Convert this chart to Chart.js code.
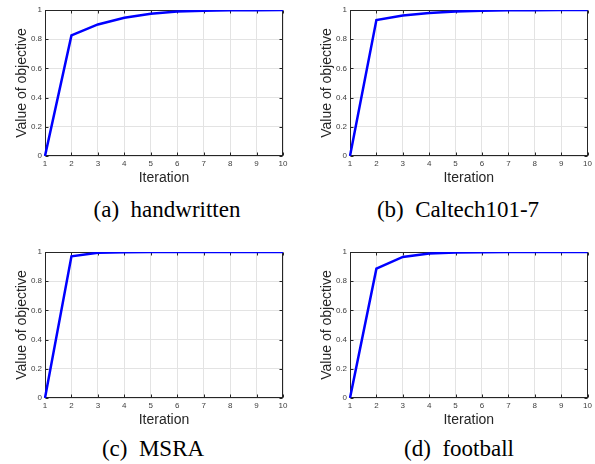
<!DOCTYPE html>
<html>
<head>
<meta charset="utf-8">
<script src="https://cdn.jsdelivr.net/npm/chart.js@4.4.1/dist/chart.umd.min.js"></script>
<style>
  body { margin: 0; background: #fff; width: 595px; height: 464px; position: relative; overflow: hidden; }
  .panel { position: absolute; }
  .caption {
    position: absolute;
    font-family: "Liberation Serif", "Times New Roman", serif;
    font-size: 23px;
    line-height: 1;
    color: #000;
    white-space: pre;
    transform: translateX(-50%);
  }
</style>
</head>
<body>
<div class="panel" id="panelA"><canvas id="chartA"></canvas></div>
<div class="panel" id="panelB"><canvas id="chartB"></canvas></div>
<div class="panel" id="panelC"><canvas id="chartC"></canvas></div>
<div class="panel" id="panelD"><canvas id="chartD"></canvas></div>
<div class="caption" style="left:167px;top:198px">(a)  handwritten</div>
<div class="caption" style="left:458px;top:198px">(b)  Caltech101-7</div>
<div class="caption" style="left:153px;top:437px">(c)  MSRA</div>
<div class="caption" style="left:459px;top:437px">(d)  football</div>
<script>
// Data
const iterations = [1, 2, 3, 4, 5, 6, 7, 8, 9, 10];
const handwritten = [0, 0.826, 0.901, 0.947, 0.975, 0.989, 0.995, 0.998, 0.999, 1.0];
const caltech = [0, 0.931, 0.963, 0.979, 0.99, 0.995, 0.998, 0.999, 1.0, 1.0];
const msra = [0, 0.97, 0.995, 0.999, 1.0, 1.0, 1.0, 1.0, 1.0, 1.0];
const football = [0, 0.886, 0.966, 0.989, 0.997, 0.999, 1.0, 1.0, 1.0, 1.0];
const yTicks = [0, 0.2, 0.4, 0.6, 0.8, 1];

// Panel layout (canvas box + plot margins)
const layoutA = { left: 0, top: 0, width: 297, height: 192, padTop: 10, padRight: 14, yWidth: 45, xHeight: 36, yTitlePad: 13.6, xTitlePad: 5.6 };
const layoutB = { left: 300, top: 0, width: 295, height: 192, padTop: 10, padRight: 7, yWidth: 50, xHeight: 36, yTitlePad: 18.6, xTitlePad: 5.6 };
const layoutC = { left: 0, top: 240, width: 297, height: 192, padTop: 12, padRight: 14, yWidth: 45, xHeight: 34, yTitlePad: 13.6, xTitlePad: 3.6 };
const layoutD = { left: 300, top: 240, width: 295, height: 192, padTop: 12, padRight: 7, yWidth: 50, xHeight: 34, yTitlePad: 18.6, xTitlePad: 3.6 };

// MATLAB-like box with inward ticks
const boxPlugin = {
  id: "matlabBox",
  beforeDatasetsDraw(chart) {
    const { ctx, chartArea: a, scales } = chart;
    const l = Math.round(a.left) + 0.5;
    const r = Math.round(a.right) - 0.5;
    const t = Math.round(a.top) + 0.5;
    const b = Math.round(a.bottom) - 0.5;
    ctx.save();
    ctx.strokeStyle = "#262626";
    ctx.lineWidth = 1;
    ctx.strokeRect(l, t, r - l, b - t);
    ctx.beginPath();
    scales.x.ticks.forEach((tk, i) => {
      const px = Math.round(scales.x.getPixelForTick(i)) + 0.5;
      ctx.moveTo(px, b); ctx.lineTo(px, b - 3);
      ctx.moveTo(px, t); ctx.lineTo(px, t + 3);
    });
    yTicks.forEach((v) => {
      const py = Math.round(scales.y.getPixelForValue(v)) + 0.5;
      ctx.moveTo(l, py); ctx.lineTo(l + 3, py);
      ctx.moveTo(r, py); ctx.lineTo(r - 3, py);
    });
    ctx.stroke();
    ctx.restore();
  },
};

function makeChart(id, panelId, values, lay) {
  const panel = document.getElementById(panelId);
  panel.style.left = lay.left + "px";
  panel.style.top = lay.top + "px";
  panel.style.width = lay.width + "px";
  panel.style.height = lay.height + "px";

  return new Chart(document.getElementById(id), {
    type: "line",
    data: {
      labels: iterations,
      datasets: [
        {
          data: values,
          borderColor: "#0000ff",
          borderWidth: 2.5,
          pointRadius: 0,
          tension: 0,
          fill: false,
        },
      ],
    },
    options: {
      responsive: true,
      maintainAspectRatio: false,
      animation: false,
      layout: { padding: { top: lay.padTop, right: lay.padRight, left: 0, bottom: 0 } },
      plugins: { legend: { display: false }, tooltip: { enabled: false } },
      scales: {
        x: {
          type: "category",
          offset: false,
          grid: { color: "#e3e3e3", drawTicks: false },
          border: { display: false },
          ticks: {
            padding: 3,
            maxRotation: 0,
            autoSkip: false,
            color: "#404040",
            font: { family: "Liberation Sans", size: 8 },
          },
          title: {
            display: true,
            text: "Iteration",
            color: "#262626",
            font: { family: "Liberation Sans", size: 14 },
            padding: { top: 0, bottom: lay.xTitlePad },
          },
          afterFit: (s) => { s.height = lay.xHeight; },
        },
        y: {
          min: 0,
          max: 1,
          grid: { color: "#e3e3e3", drawTicks: false },
          border: { display: false },
          afterBuildTicks: (s) => { s.ticks = yTicks.map((v) => ({ value: v })); },
          ticks: {
            padding: 3,
            color: "#404040",
            font: { family: "Liberation Sans", size: 8 },
            callback: (v) => String(Math.round(v * 10) / 10),
          },
          title: {
            display: true,
            text: "Value of objective",
            color: "#262626",
            font: { family: "Liberation Sans", size: 14 },
            padding: { top: lay.yTitlePad, bottom: 0 },
          },
          afterFit: (s) => { s.width = lay.yWidth; },
        },
      },
    },
    plugins: [boxPlugin],
  });
}

makeChart("chartA", "panelA", handwritten, layoutA);
makeChart("chartB", "panelB", caltech, layoutB);
makeChart("chartC", "panelC", msra, layoutC);
makeChart("chartD", "panelD", football, layoutD);
</script>
</body>
</html>
